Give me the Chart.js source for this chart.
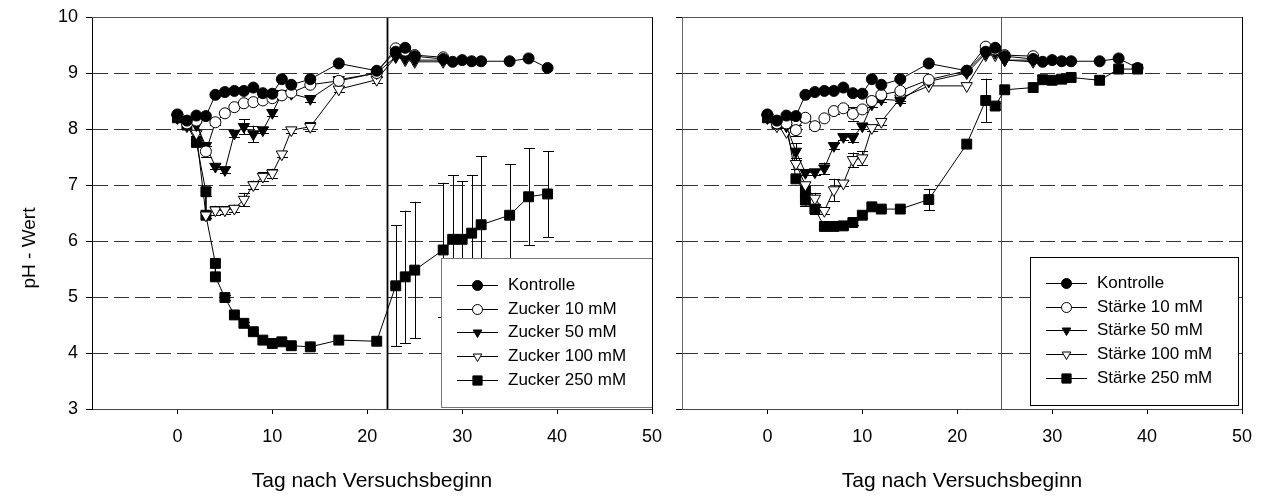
<!DOCTYPE html>
<html>
<head>
<meta charset="utf-8">
<script src="https://cdn.jsdelivr.net/npm/chart.js@4.4.0/dist/chart.umd.min.js"></script>
<style>
    html, body { margin: 0; padding: 0; background: #fff; }
    #wrap { position: relative; width: 1264px; height: 496px; }
    #links { position: absolute; left: 0; top: 0; }
    #rechts { position: absolute; left: 664px; top: 0; }
</style>
</head>
<body>
<div id="wrap">
    <canvas id="links" width="664" height="496"></canvas>
    <canvas id="rechts" width="600" height="496"></canvas>
</div>
<script>
// Achsen
const xTicks = [0, 10, 20, 30, 40, 50];
const yTicks = [3, 4, 5, 6, 7, 8, 9, 10];

// Probenahmetage
const tageKontrolle = [0, 1, 2, 3, 4, 5, 6, 7, 8, 9, 10, 11, 12, 14, 17, 21, 23, 24, 25, 28, 29, 30, 31, 32, 35, 37, 39];
const tageKurz = [0, 1, 2, 3, 4, 5, 6, 7, 8, 9, 10, 11, 12, 14, 17, 21, 23, 24, 25, 28];
const tageZucker250 = [0, 1, 2, 3, 3, 4, 4, 5, 6, 7, 8, 9, 10, 11, 12, 14, 17, 21, 23, 24, 25, 28, 29, 30, 31, 32, 35, 37, 39];
const tageStaerke250 = [0, 1, 2, 3, 4, 4, 5, 6, 7, 8, 9, 10, 11, 12, 14, 17, 21, 23, 24, 25, 28, 29, 30, 31, 32, 35, 37, 39];

// pH-Werte
const phKontrolle = [8.26, 8.15, 8.24, 8.23, 8.61, 8.66, 8.68, 8.68, 8.74, 8.64, 8.63, 8.89, 8.79, 8.89, 9.17, 9.04, 9.38, 9.45, 9.30, 9.25, 9.20, 9.23, 9.21, 9.21, 9.21, 9.26, 9.09];

const phZucker10 = [8.25, 8.10, 8.15, 7.60, 8.12, 8.28, 8.39, 8.46, 8.48, 8.51, 8.55, 8.60, 8.65, 8.79, 8.86, 9.00, 9.44, 9.40, 9.32, 9.28];
const phZucker50 = [8.20, 8.07, 8.07, 7.70, 7.33, 7.27, 7.92, 8.04, 7.91, 7.98, 8.29, 8.63, 8.63, 8.54, 8.88, 9.00, 9.29, 9.26, 9.23, 9.23];
const phZucker100 = [8.20, 8.05, 7.92, 6.46, 6.55, 6.55, 6.58, 6.74, 7.00, 7.15, 7.21, 7.55, 7.98, 8.04, 8.71, 8.88, 9.29, 9.23, 9.20, 9.20];
const phZucker250 = [8.20, 8.07, 7.76, 6.88, 6.46, 5.60, 5.36, 4.99, 4.68, 4.53, 4.38, 4.23, 4.17, 4.20, 4.13, 4.11, 4.23, 4.21, 5.20, 5.36, 5.48, 5.84, 6.03, 6.03, 6.14, 6.29, 6.46, 6.79, 6.84];

const phStaerke10 = [8.25, 8.10, 8.10, 7.98, 8.20, 8.05, 8.19, 8.32, 8.37, 8.27, 8.35, 8.50, 8.61, 8.68, 8.88, 9.04, 9.47, 9.42, 9.32, 9.30];
const phStaerke50 = [8.20, 8.10, 8.05, 7.60, 7.22, 7.23, 7.30, 7.70, 7.86, 7.85, 8.05, 8.44, 8.53, 8.51, 8.85, 9.00, 9.35, 9.36, 9.23, 9.23];
const phStaerke100 = [8.20, 8.05, 7.95, 7.38, 7.00, 6.76, 6.54, 6.91, 7.03, 7.45, 7.48, 8.02, 8.13, 8.55, 8.77, 8.77, 9.32, 9.32, 9.23, 9.20];
const phStaerke250 = [8.20, 8.10, 8.10, 7.11, 6.88, 6.73, 6.57, 6.26, 6.26, 6.27, 6.33, 6.46, 6.61, 6.57, 6.57, 6.74, 7.73, 8.51, 8.41, 8.70, 8.74, 8.88, 8.87, 8.89, 8.92, 8.87, 9.07, 9.07];

// Standardabweichungen
const sdZucker10 = [0, 0, 0, 0.10, 0.05, 0, 0, 0, 0, 0, 0, 0, 0, 0, 0, 0, 0, 0, 0, 0];
const sdZucker50 = [0, 0, 0, 0, 0.05, 0.05, 0.06, 0.13, 0.15, 0.05, 0.05, 0, 0, 0.05, 0, 0, 0, 0, 0, 0];
const sdZucker100 = [0, 0, 0.05, 0.05, 0.08, 0.07, 0.07, 0.12, 0.08, 0.08, 0.08, 0.05, 0.05, 0.08, 0.05, 0.05, 0, 0, 0, 0];
const sdZucker250 = [0, 0, 0.05, 0.08, 0.05, 0.06, 0.06, 0.04, 0.03, 0.03, 0.03, 0.03, 0.03, 0.03, 0.03, 0.03, 0, 0, 1.08, 1.18, 1.22, 1.20, 1.14, 1.04, 1.04, 1.22, 0.91, 0.87, 0.77];
const sdStaerke10 = [0, 0, 0, 0.10, 0.05, 0, 0, 0.05, 0.05, 0.12, 0.05, 0, 0, 0, 0, 0, 0, 0, 0, 0];
const sdStaerke50 = [0, 0, 0, 0.15, 0.05, 0.05, 0.10, 0.05, 0.05, 0.08, 0.05, 0.05, 0.05, 0.05, 0, 0, 0, 0, 0, 0];
const sdStaerke100 = [0, 0, 0, 0.10, 0.05, 0.10, 0.05, 0.20, 0.05, 0.13, 0.13, 0.05, 0.05, 0.05, 0, 0, 0, 0, 0, 0];
const sdStaerke250 = [0, 0, 0, 0.05, 0.10, 0.10, 0.08, 0.05, 0.05, 0.05, 0.05, 0.05, 0.05, 0.03, 0.03, 0.19, 0, 0.39, 0.06, 0, 0, 0, 0, 0, 0, 0, 0, 0];

// Wechsel der Bedingungen (senkrechte Linie)
const wechselLinks = 22.1;
const wechselRechts = 24.6;

const FONT = "'Liberation Sans', Arial, sans-serif";

const symbole = [
    { style: 'circle', fill: '#000', r: 5.5, rot: 0 },
    { style: 'circle', fill: '#fff', r: 5.5, rot: 0 },
    { style: 'triangle', fill: '#000', r: 6.5, rot: 180 },
    { style: 'triangle', fill: '#fff', r: 6.5, rot: 180 },
    { style: 'rect', fill: '#000', r: 7, rot: 0 }
];

function reihe(label, tage, werte, sd, i) {
    const s = symbole[i];
    return {
        label: label,
        data: tage.map((t, k) => ({ x: t, y: werte[k] })),
        sd: sd,
        showLine: true,
        borderColor: '#000',
        borderWidth: 1,
        pointStyle: s.style,
        pointRotation: s.rot,
        pointRadius: s.r,
        pointHoverRadius: s.r,
        pointBackgroundColor: s.fill,
        pointBorderColor: '#000',
        pointBorderWidth: 1
    };
}

function zeichneSymbol(ctx, i, x, y, r) {
    const s = symbole[i];
    ctx.save();
    ctx.fillStyle = s.fill;
    ctx.strokeStyle = '#000';
    ctx.lineWidth = 1;
    ctx.beginPath();
    if (s.style === 'circle') {
        ctx.arc(x, y, r, 0, Math.PI * 2);
    } else if (s.style === 'rect') {
        const h = r * Math.SQRT1_2;
        ctx.rect(x - h, y - h, 2 * h, 2 * h);
    } else {
        const w = r * Math.sqrt(3) / 2;
        ctx.moveTo(x - w, y - r / 2);
        ctx.lineTo(x + w, y - r / 2);
        ctx.lineTo(x, y + r);
        ctx.closePath();
    }
    ctx.fill();
    ctx.stroke();
    ctx.restore();
}

const zusatz = {
    id: 'zusatz',
    beforeDatasetsDraw(chart, args, o) {
        const ctx = chart.ctx;
        const xs = chart.scales.x, ys = chart.scales.y;
        const a = chart.chartArea;
        // Fehlerbalken
        ctx.save();
        ctx.strokeStyle = '#000';
        ctx.lineWidth = 1;
        chart.data.datasets.forEach(ds => {
            if (!ds.sd) return;
            ds.data.forEach((p, k) => {
                const e = ds.sd[k];
                if (!e) return;
                const px = Math.round(xs.getPixelForValue(p.x)) + 0.5;
                const y1 = ys.getPixelForValue(p.y + e);
                const y2 = ys.getPixelForValue(p.y - e);
                ctx.beginPath();
                ctx.moveTo(px, y1); ctx.lineTo(px, y2);
                ctx.moveTo(px - 5.5, Math.round(y1) + 0.5); ctx.lineTo(px + 5.5, Math.round(y1) + 0.5);
                ctx.moveTo(px - 5.5, Math.round(y2) + 0.5); ctx.lineTo(px + 5.5, Math.round(y2) + 0.5);
                ctx.stroke();
            });
        });
        ctx.restore();
        // senkrechte Linie
        const vx = Math.round(xs.getPixelForValue(o.wechsel)) + 0.5;
        ctx.save();
        ctx.strokeStyle = o.wechselFarbe;
        ctx.lineWidth = o.wechselBreite;
        ctx.beginPath();
        ctx.moveTo(vx, a.top); ctx.lineTo(vx, a.bottom);
        ctx.stroke();
        ctx.restore();
    },
    afterDatasetsDraw(chart, args, o) {
        const ctx = chart.ctx;
        const a = chart.chartArea;
        const L = o.legende;
        // Legende
        ctx.save();
        ctx.fillStyle = '#fff';
        ctx.fillRect(L.x1, L.y1, L.x2 - L.x1, L.y2 - L.y1);
        ctx.strokeStyle = L.farbe;
        ctx.lineWidth = 1;
        ctx.strokeRect(L.x1 + 0.5, L.y1 + 0.5, L.x2 - L.x1, L.y2 - L.y1);
        ctx.font = '17px ' + FONT;
        ctx.textBaseline = 'middle';
        ctx.textAlign = 'left';
        chart.data.datasets.forEach((ds, i) => {
            const y = Math.round(L.zeile0 + i * L.abstand) + 0.5;
            ctx.strokeStyle = '#000';
            ctx.beginPath();
            ctx.moveTo(L.linie1, y); ctx.lineTo(L.linie2, y);
            ctx.stroke();
            zeichneSymbol(ctx, i, (L.linie1 + L.linie2) / 2, y, symbole[i].style === 'rect' ? 6.5 : 5);
            ctx.fillStyle = '#000';
            ctx.fillText(ds.label, L.text, y);
        });
        ctx.restore();
        // Rahmen oben und rechts
        ctx.save();
        ctx.lineWidth = 1;
        ctx.strokeStyle = '#555';
        ctx.beginPath();
        ctx.moveTo(a.left, a.top + 0.5); ctx.lineTo(a.right, a.top + 0.5);
        ctx.stroke();
        ctx.strokeStyle = '#000';
        ctx.beginPath();
        ctx.moveTo(a.right + 0.5, a.top); ctx.lineTo(a.right + 0.5, a.bottom + 5);
        ctx.stroke();
        ctx.restore();
        // Achsentitel
        ctx.save();
        ctx.fillStyle = '#000';
        ctx.textAlign = 'center';
        ctx.textBaseline = 'middle';
        ctx.font = '21px ' + FONT;
        ctx.fillText('Tag nach Versuchsbeginn', (a.left + a.right) / 2, 481);
        if (o.yTitel) {
            ctx.font = '19px ' + FONT;
            ctx.translate(30, 248);
            ctx.rotate(-Math.PI / 2);
            ctx.fillText(o.yTitel, 0, 0);
        }
        ctx.restore();
    }
};

function diagramm(id, datasets, cfg) {
    return new Chart(document.getElementById(id), {
        type: 'scatter',
        data: { datasets: datasets },
        plugins: [zusatz],
        options: {
            responsive: false,
            animation: false,
            events: [],
            layout: { padding: { top: 17, right: cfg.rechts, left: 0, bottom: 0 } },
            scales: {
                x: {
                    type: 'linear',
                    min: -9,
                    max: 50,
                    afterBuildTicks: s => { s.ticks = xTicks.map(v => ({ value: v })); },
                    afterFit: s => { s.height = 87; s.paddingLeft = 0; s.paddingRight = 0; },
                    grid: { drawOnChartArea: false, drawTicks: true, tickLength: 5, tickColor: '#000' },
                    border: { color: '#444', width: 1 },
                    ticks: { font: { family: FONT, size: 18 }, color: '#000', padding: 12, maxRotation: 0 }
                },
                y: {
                    type: 'linear',
                    min: 3,
                    max: 10,
                    afterBuildTicks: s => { s.ticks = yTicks.map(v => ({ value: v })); },
                    afterFit: s => { s.width = cfg.yBreite; s.paddingTop = 0; s.paddingBottom = 0; },
                    grid: {
                        drawOnChartArea: true,
                        drawTicks: true,
                        tickLength: 6,
                        tickColor: '#000',
                        color: c => (c.tick && (c.tick.value === 3 || c.tick.value === 10)) ? 'rgba(0,0,0,0)' : '#333'
                    },
                    border: { color: cfg.yAchse, width: 1, dash: [15, 6] },
                    ticks: { display: cfg.yLabels, font: { family: FONT, size: 18 }, color: '#000', padding: 8 }
                }
            },
            plugins: {
                legend: { display: false },
                tooltip: { enabled: false },
                zusatz: cfg.zusatz
            }
        }
    });
}

// linkes Diagramm: Zucker
diagramm('links', [
    reihe('Kontrolle', tageKontrolle, phKontrolle, null, 0),
    reihe('Zucker 10 mM', tageKurz, phZucker10, sdZucker10, 1),
    reihe('Zucker 50 mM', tageKurz, phZucker50, sdZucker50, 2),
    reihe('Zucker 100 mM', tageKurz, phZucker100, sdZucker100, 3),
    reihe('Zucker 250 mM', tageZucker250, phZucker250, sdZucker250, 4)
], {
    rechts: 12,
    yBreite: 92,
    yLabels: true,
    yAchse: '#000',
    zusatz: {
        wechsel: wechselLinks,
        wechselFarbe: '#000',
        wechselBreite: 1.8,
        yTitel: 'pH - Wert',
        legende: { x1: 441, y1: 258, x2: 652, y2: 407, farbe: '#777', zeile0: 285, abstand: 23.7, linie1: 457, linie2: 498, text: 508 }
    }
});

// rechtes Diagramm: Stärke
diagramm('rechts', [
    reihe('Kontrolle', tageKontrolle, phKontrolle, null, 0),
    reihe('Stärke 10 mM', tageKurz, phStaerke10, sdStaerke10, 1),
    reihe('Stärke 50 mM', tageKurz, phStaerke50, sdStaerke50, 2),
    reihe('Stärke 100 mM', tageKurz, phStaerke100, sdStaerke100, 3),
    reihe('Stärke 250 mM', tageStaerke250, phStaerke250, sdStaerke250, 4)
], {
    rechts: 22,
    yBreite: 18,
    yLabels: false,
    yAchse: '#666',
    zusatz: {
        wechsel: wechselRechts,
        wechselFarbe: '#555',
        wechselBreite: 1,
        yTitel: null,
        legende: { x1: 366, y1: 257, x2: 574, y2: 405, farbe: '#000', zeile0: 283, abstand: 23.7, linie1: 382, linie2: 423, text: 433 }
    }
});
</script>
</body>
</html>
